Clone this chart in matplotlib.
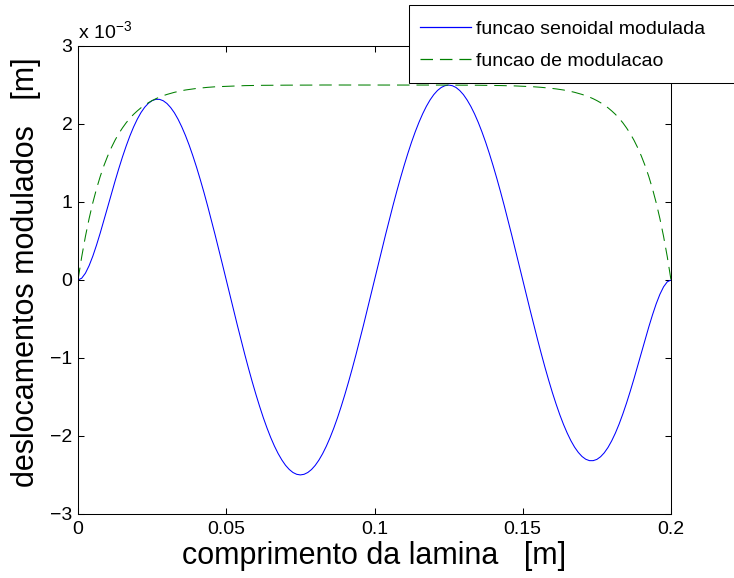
import numpy as np
import matplotlib
matplotlib.use("Agg")
import matplotlib.pyplot as plt
from matplotlib.patches import Rectangle

plt.rcParams['font.family'] = ['Liberation Sans', 'DejaVu Sans']
plt.rcParams['mathtext.fontset'] = 'custom'
plt.rcParams['mathtext.rm'] = 'Liberation Sans'
plt.rcParams['mathtext.it'] = 'Liberation Sans:italic'
plt.rcParams['mathtext.default'] = 'regular'
plt.rcParams['lines.scale_dashes'] = False

# positions along the blade [m], sampled every 1.25 mm
x_pos = np.linspace(0.0, 0.2, 161)

# modulated sine displacement, in units of 1e-3 m
disp_modulated = [
    0.000, 0.023, 0.087, 0.184, 0.306, 0.448, 0.603, 0.766, 0.934, 1.102,
    1.268, 1.427, 1.578, 1.718, 1.847, 1.962, 2.062, 2.147, 2.215, 2.266,
    2.300, 2.316, 2.316, 2.298, 2.263, 2.211, 2.144, 2.061, 1.963, 1.852,
    1.728, 1.591, 1.444, 1.286, 1.120, 0.945, 0.764, 0.578, 0.388, 0.195,
    0.000, -0.195, -0.389, -0.581, -0.770, -0.954, -1.132, -1.303, -1.466, -1.620,
    -1.765, -1.898, -2.020, -2.129, -2.225, -2.307, -2.376, -2.429, -2.468, -2.491,
    -2.499, -2.491, -2.468, -2.430, -2.377, -2.309, -2.227, -2.131, -2.022, -1.901,
    -1.768, -1.623, -1.469, -1.306, -1.135, -0.957, -0.772, -0.584, -0.391, -0.196,
    0.000,
    0.196, 0.391, 0.584, 0.772, 0.957, 1.135, 1.306, 1.469, 1.623, 1.768,
    1.901, 2.022, 2.131, 2.227, 2.309, 2.377, 2.430, 2.468, 2.491, 2.499,
    2.491, 2.468, 2.429, 2.376, 2.307, 2.225, 2.129, 2.020, 1.898, 1.765,
    1.620, 1.466, 1.303, 1.132, 0.954, 0.770, 0.581, 0.389, 0.195, 0.000,
    -0.195, -0.388, -0.578, -0.764, -0.945, -1.120, -1.286, -1.444, -1.591, -1.728,
    -1.852, -1.963, -2.061, -2.144, -2.211, -2.263, -2.298, -2.316, -2.316, -2.300,
    -2.266, -2.215, -2.147, -2.062, -1.962, -1.847, -1.718, -1.578, -1.427, -1.268,
    -1.102, -0.934, -0.766, -0.603, -0.448, -0.306, -0.184, -0.087, -0.023, 0.000,
]

# modulation envelope, in units of 1e-3 m
envelope = [
    0.000, 0.297, 0.558, 0.788, 0.991, 1.170, 1.328, 1.467, 1.589, 1.697,
    1.793, 1.877, 1.950, 2.016, 2.073, 2.124, 2.168, 2.208, 2.242, 2.273,
    2.300, 2.324, 2.345, 2.363, 2.379, 2.393, 2.406, 2.417, 2.427, 2.436,
    2.443, 2.450, 2.456, 2.461, 2.466, 2.470, 2.474, 2.477, 2.479, 2.482,
    2.484, 2.486, 2.488, 2.489, 2.490, 2.492, 2.493, 2.494, 2.494, 2.495,
    2.496, 2.496, 2.497, 2.497, 2.497, 2.498, 2.498, 2.498, 2.498, 2.499,
    2.499, 2.499, 2.499, 2.499, 2.499, 2.500, 2.500, 2.500, 2.500, 2.500,
    2.500, 2.500, 2.500, 2.500, 2.500, 2.500, 2.500, 2.500, 2.500, 2.500,
    2.500,
    2.500, 2.500, 2.500, 2.500, 2.500, 2.500, 2.500, 2.500, 2.500, 2.500,
    2.500, 2.500, 2.500, 2.500, 2.500, 2.499, 2.499, 2.499, 2.499, 2.499,
    2.499, 2.498, 2.498, 2.498, 2.498, 2.497, 2.497, 2.497, 2.496, 2.496,
    2.495, 2.494, 2.494, 2.493, 2.492, 2.490, 2.489, 2.488, 2.486, 2.484,
    2.482, 2.479, 2.477, 2.474, 2.470, 2.466, 2.461, 2.456, 2.450, 2.443,
    2.436, 2.427, 2.417, 2.406, 2.393, 2.379, 2.363, 2.345, 2.324, 2.300,
    2.273, 2.242, 2.208, 2.168, 2.124, 2.073, 2.016, 1.950, 1.877, 1.793,
    1.697, 1.589, 1.467, 1.328, 1.170, 0.991, 0.788, 0.558, 0.297, 0.000,
]

x_ticks = [0.0, 0.05, 0.1, 0.15, 0.2]
x_tick_labels = ['0', '0.05', '0.1', '0.15', '0.2']
y_ticks = [-3, -2, -1, 0, 1, 2, 3]
y_tick_labels = ['\u22123', '\u22122', '\u22121', '0', '1', '2', '3']

series_labels = ['funcao senoidal modulada', 'funcao de modulacao']
series_colors = [(0, 0, 1), (0, 0.5, 0)]

W, H = 734, 578
fig = plt.figure(figsize=(W / 100, H / 100), dpi=100)
ax = fig.add_axes([78 / W, 1 - 514 / H, (671 - 78) / W, (514 - 46) / H])

ax.plot(x_pos, disp_modulated, color=series_colors[0], lw=0.75,
        label=series_labels[0])
ax.plot(x_pos, envelope, color=series_colors[1], lw=0.75, dashes=(9, 5),
        label=series_labels[1])

ax.set_xlim(0, 0.2)
ax.set_ylim(-3, 3)
ax.set_xticks(x_ticks)
ax.set_xticklabels(x_tick_labels)
ax.set_yticks(y_ticks)
ax.set_yticklabels(y_tick_labels)
ax.tick_params(direction='in', length=4.3, width=0.75, top=True, right=True,
               labelsize=14, colors='black')
ax.tick_params(axis='x', pad=5)
ax.tick_params(axis='y', pad=4)
for s in ax.spines.values():
    s.set_linewidth(0.75)

ax.set_xlabel('comprimento da lamina   [m]', fontsize=22, labelpad=2)
ax.set_ylabel('deslocamentos modulados   [m]', fontsize=22)
ax.yaxis.set_label_coords(-0.063, 0.517)

fig.text(78 / W, 1 - 38 / H, 'x 10$^{-3}$', fontsize=14, va='baseline', ha='left')

# legend box, running past the right edge of the figure
frame = Rectangle((409 / W, 1 - 83 / H), (790 - 409) / W, (83 - 5) / H,
                  transform=fig.transFigure, facecolor='white',
                  edgecolor='black', lw=0.75, zorder=3)
fig.add_artist(frame)

leg = fig.legend(loc='center left',
                 bbox_to_anchor=(420 / W, 1 - 45 / H),
                 borderaxespad=0, borderpad=0, fontsize=14,
                 handlelength=2.6, handletextpad=0.26, labelspacing=0.75,
                 frameon=False)
leg.set_zorder(5)
for line, c in zip(leg.get_lines(), series_colors):
    line.set_color(c)
    line.set_linewidth(0.9)

fig.savefig('out.png', dpi=100)
